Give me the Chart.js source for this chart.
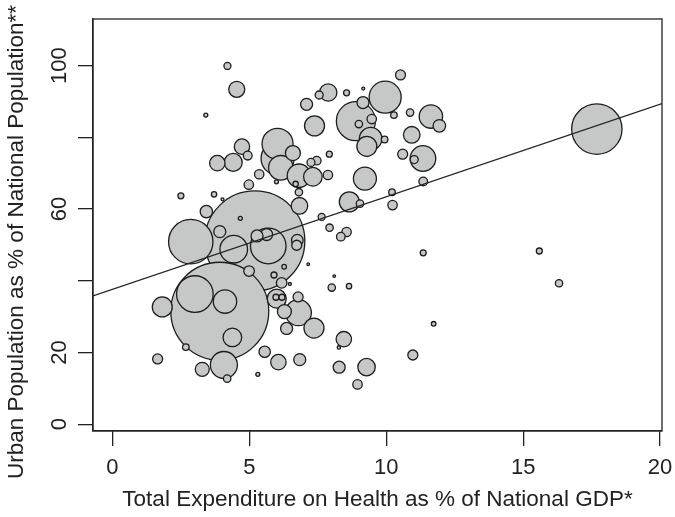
<!DOCTYPE html>
<html>
<head>
<meta charset="utf-8">
<script src="https://cdn.jsdelivr.net/npm/chart.js@4.4.0/dist/chart.umd.min.js"></script>
<style>
  html, body { margin: 0; padding: 0; background: #fff; }
  #wrap { width: 675px; height: 517px; }
</style>
</head>
<body>
<div id="wrap"><canvas id="myChart" width="675" height="517"></canvas></div>
<script>
// health spending (% of GDP) vs urban population (%), bubble radius ~ country population
var healthGdp = [
  4.20, 4.54, 3.41, 4.73, 4.94, 3.83, 4.41, 6.03, 6.03, 6.15,
  6.59, 5.36, 5.99, 6.81, 6.69, 6.81, 7.32, 7.25, 7.46, 7.09,
  7.38, 7.55, 7.88, 4.98, 6.83, 3.71, 2.50, 3.43, 4.67, 7.64,
  7.87, 7.92, 10.52, 8.55, 9.16, 9.96, 8.89, 9.15, 9.00, 9.47,
  9.43, 9.29, 9.94, 10.28, 10.87, 11.63, 11.94, 10.93, 10.60, 11.34,
  11.02, 9.22, 11.35, 10.21, 10.23, 8.65, 9.04, 7.93, 8.34, 8.55,
  11.35, 7.15, 8.10, 8.01, 8.64, 17.69, 15.59, 16.31, 5.20, 3.92,
  2.86, 3.92, 4.43, 5.69, 5.63, 5.28, 6.75, 6.73, 6.27, 5.90,
  6.18, 6.48, 4.99, 3.01, 4.11, 4.38, 1.82, 6.00, 5.97, 6.19,
  6.78, 6.79, 6.36, 6.28, 7.36, 4.07, 3.28, 4.19, 1.65, 2.68,
  5.56, 6.06, 5.31, 6.84, 8.28, 9.28, 8.95, 8.45, 8.27, 10.97,
  11.73, 4.02
];
var urbanPop = [
  99.9, 93.4, 86.2, 77.4, 74.9, 72.8, 73.0, 78.2, 74.1, 71.5,
  75.6, 69.7, 67.6, 69.3, 67.0, 64.7, 69.0, 73.0, 73.5, 89.2,
  83.2, 91.8, 92.5, 66.8, 60.9, 64.1, 63.7, 59.3, 57.4, 57.8,
  69.5, 75.3, 97.4, 92.4, 93.6, 91.2, 84.5, 89.7, 83.7, 85.1,
  79.6, 77.5, 79.4, 86.2, 86.9, 85.8, 83.2, 80.7, 75.3, 74.1,
  73.8, 68.5, 67.7, 64.7, 61.1, 62.0, 61.5, 54.8, 52.3, 53.6,
  47.8, 44.6, 41.3, 38.1, 38.5, 82.3, 48.3, 39.3, 51.1, 31.5,
  50.9, 53.7, 48.8, 49.7, 52.9, 52.5, 51.3, 49.9, 43.9, 41.6,
  39.4, 39.1, 42.7, 36.3, 34.2, 24.2, 32.7, 35.0, 35.4, 35.4,
  35.5, 31.1, 26.7, 31.4, 26.8, 16.5, 15.3, 12.7, 18.2, 21.5,
  20.2, 17.3, 13.9, 18.0, 15.9, 15.9, 11.1, 23.7, 21.4, 19.3,
  28.0, 62.7
];
var popSize = [
  3.5, 8, 2, 7.7, 4.4, 7.7, 9, 15.5, 16.5, 12.3,
  7.5, 4.7, 2, 11.7, 2.7, 3.7, 9.3, 4, 4.3, 6,
  10, 4, 8.7, 4.7, 8.3, 2.7, 3, 6.2, 2, 3.5,
  4.7, 3, 5, 3, 1.5, 16, 19.5, 6, 3.7, 4.7,
  11.3, 10, 3.3, 3.3, 3.7, 11.7, 6.3, 8.3, 5, 12.8,
  4, 11.5, 4.3, 3.3, 4.7, 10, 3.7, 3.7, 4.3, 4.7,
  3, 1.3, 1.3, 3.7, 2.7, 25.2, 3, 3.7, 50, 49,
  22.2, 6, 13.8, 17.8, 6, 6, 5.8, 5, 2.3, 3,
  5.3, 1.5, 5.3, 18.3, 11.7, 9.3, 10, 9.5, 3, 3,
  5, 13, 6, 7, 10, 13.5, 7, 3.7, 5, 3.3,
  5.7, 7.7, 2, 6, 6, 8.7, 4.7, 7.7, 1.7, 5,
  2.3, 1.5
];

var xTicks = [0, 5, 10, 15, 20];
var yTicks = [0, 20, 40, 60, 80, 100];
var yLabelsShown = [0, 20, 60, 100]; // 40 and 80 have no label
var xRange = [-0.71, 20.07];
var yRange = [-1.9, 113];
var fitIntercept = 37.6;
var fitSlope = 2.58;
var xTitle = 'Total Expenditure on Health as % of National GDP*';
var yTitle = 'Urban Population as % of National Population**';

var FONT = 'Liberation Sans, Arial, sans-serif';
var INK = '#222';

// largest first so the small circles sit on top (like R symbols())
var points = healthGdp.map(function (x, i) {
  return { x: x, y: urbanPop[i], r: popSize[i] };
});
points.sort(function (a, b) { return b.r - a.r; });

var fitLine = xRange.map(function (x) {
  return { x: x, y: fitIntercept + fitSlope * x };
});

// frame around the plot region + the y title (sits a bit lower than the plot centre)
var boxPlugin = {
  id: 'box',
  afterDraw: function (chart) {
    var a = chart.chartArea;
    var ctx = chart.ctx;
    ctx.save();
    ctx.strokeStyle = INK;
    ctx.lineWidth = 1.3;
    ctx.strokeRect(a.left, a.top, a.right - a.left, a.bottom - a.top);

    ctx.translate(17, 242);
    ctx.rotate(-Math.PI / 2);
    ctx.fillStyle = INK;
    ctx.font = '22.5px ' + FONT;
    ctx.textAlign = 'center';
    ctx.textBaseline = 'middle';
    ctx.fillText(yTitle, 0, 0);
    ctx.restore();
  }
};

var ctx = document.getElementById('myChart').getContext('2d');
new Chart(ctx, {
  type: 'bubble',
  data: {
    datasets: [
      {
        type: 'line',
        data: fitLine,
        borderColor: INK,
        borderWidth: 1.2,
        pointRadius: 0,
        tension: 0,
        fill: false,
        order: 0
      },
      {
        type: 'bubble',
        data: points,
        backgroundColor: '#c6c8c7',
        borderColor: '#1c1c1c',
        borderWidth: 1.3,
        order: 1
      }
    ]
  },
  options: {
    responsive: false,
    animation: false,
    devicePixelRatio: 1,
    events: [],
    layout: { autoPadding: false, padding: { left: 0, right: 13, top: 19, bottom: 0 } },
    plugins: {
      legend: { display: false },
      tooltip: { enabled: false }
    },
    scales: {
      x: {
        type: 'linear',
        min: xRange[0],
        max: xRange[1],
        afterBuildTicks: function (s) { s.ticks = xTicks.map(function (v) { return { value: v }; }); },
        afterFit: function (s) {
          s.height = 86;
          s.paddingLeft = 0;
          s.paddingRight = 0;
        },
        grid: { drawOnChartArea: false, drawTicks: true, tickLength: 15, color: INK, lineWidth: 1.3 },
        border: { display: true, color: INK, width: 1.3 },
        ticks: {
          font: { family: FONT, size: 22 },
          color: INK,
          padding: 9,
          maxRotation: 0,
          autoSkip: false
        },
        title: {
          display: true,
          text: xTitle,
          font: { family: FONT, size: 22.5 },
          color: INK,
          padding: { top: 0, bottom: 4 }
        }
      },
      y: {
        type: 'linear',
        min: yRange[0],
        max: yRange[1],
        afterBuildTicks: function (s) { s.ticks = yTicks.map(function (v) { return { value: v }; }); },
        afterFit: function (s) {
          s.width = 93;
          s.paddingTop = 0;
          s.paddingBottom = 0;
        },
        grid: { drawOnChartArea: false, drawTicks: true, tickLength: 15, color: INK, lineWidth: 1.3 },
        border: { display: true, color: INK, width: 1.3 },
        ticks: {
          font: { family: FONT, size: 22 },
          color: INK,
          padding: 0,
          minRotation: 90,
          maxRotation: 90,
          crossAlign: 'center',
          autoSkip: false,
          callback: function (v) { return yLabelsShown.indexOf(v) >= 0 ? String(v) : ''; }
        },
        title: { display: false }
      }
    }
  },
  plugins: [boxPlugin]
});
</script>
</body>
</html>
